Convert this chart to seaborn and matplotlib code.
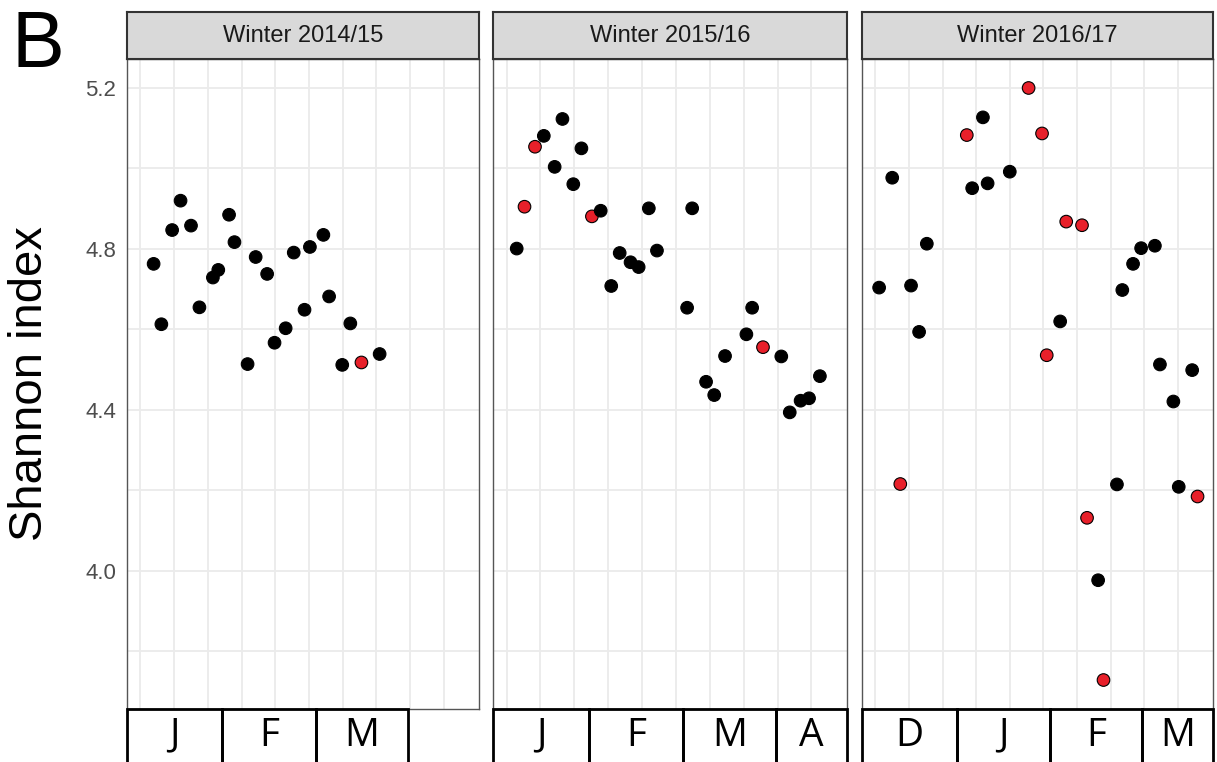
import numpy as np
import pandas as pd
import matplotlib
matplotlib.use("Agg")
import matplotlib.pyplot as plt
import matplotlib.transforms as mtransforms
from matplotlib.patches import Rectangle
from matplotlib.ticker import FixedLocator
import seaborn as sns

# --- data (x = days into the sampling season) ---
winters = ["Winter 2014/15", "Winter 2015/16", "Winter 2016/17"]

day_1415 = [3.9, 6.2, 9.4, 11.9, 15.0, 17.5, 21.5, 23.1, 26.3, 27.9, 31.8, 34.2,
            37.6, 39.8, 43.1, 45.5, 48.7, 50.3, 54.3, 56.0, 59.9, 62.3, 65.6, 71.0]
shannon_1415 = [4.763, 4.613, 4.847, 4.920, 4.858, 4.655, 4.729, 4.748, 4.885, 4.817, 4.514, 4.780,
                4.738, 4.567, 4.603, 4.791, 4.649, 4.805, 4.835, 4.682, 4.512, 4.615, 4.518, 4.539]
red_1415 = [0, 0, 0, 0, 0, 0, 0, 0, 0, 0, 0, 0,
            0, 0, 0, 0, 0, 0, 0, 0, 0, 0, 1, 0]

day_1516 = [3.0, 5.3, 8.4, 11.0, 14.2, 16.5, 19.7, 22.1, 25.2, 27.8, 30.9, 33.4, 36.6, 39.0, 42.0,
            44.4, 53.3, 54.8, 58.9, 61.3, 64.5, 70.8, 72.5, 75.7, 81.1, 83.6, 86.8, 89.3, 92.5]
shannon_1516 = [4.801, 4.905, 5.054, 5.081, 5.004, 5.123, 4.961, 5.050, 4.881, 4.895, 4.708, 4.790, 4.767, 4.755, 4.901,
                4.796, 4.654, 4.901, 4.470, 4.437, 4.534, 4.588, 4.654, 4.556, 4.533, 4.394, 4.423, 4.429, 4.484]
red_1516 = [0, 1, 1, 0, 0, 0, 0, 0, 1, 0, 0, 0, 0, 0, 0,
            0, 0, 0, 0, 0, 0, 0, 0, 1, 0, 0, 0, 0, 0]

day_1617 = [1.1, 5.0, 7.4, 10.6, 13.0, 15.3, 27.2, 28.8, 32.0, 33.4, 40.0, 45.6, 49.6, 51.0, 55.0,
            56.8, 61.5, 63.0, 66.3, 67.9, 71.9, 73.5, 76.7, 79.1, 83.2, 84.7, 88.7, 90.3, 94.3, 95.9]
shannon_1617 = [4.704, 4.977, 4.216, 4.709, 4.594, 4.813, 5.083, 4.951, 5.127, 4.963, 4.992, 5.200, 5.087, 4.536, 4.620,
                4.868, 4.859, 4.132, 3.977, 3.729, 4.215, 4.698, 4.763, 4.802, 4.808, 4.513, 4.421, 4.209, 4.499, 4.185]
red_1617 = [0, 0, 1, 0, 0, 0, 1, 0, 0, 0, 0, 1, 1, 1, 0,
            1, 1, 1, 0, 1, 0, 0, 0, 0, 0, 0, 0, 0, 0, 1]

months_1415 = ["J", "F", "M"]
months_1516 = ["J", "F", "M", "A"]
months_1617 = ["D", "J", "F", "M"]
month_edges = [-4, 24.3, 52, 79.5, 100.5]

y_major = [4.0, 4.4, 4.8, 5.2]
y_minor = [3.8, 4.2, 4.6, 5.0]

panels = [
    (winters[0], day_1415, shannon_1415, red_1415, months_1415),
    (winters[1], day_1516, shannon_1516, red_1516, months_1516),
    (winters[2], day_1617, shannon_1617, red_1617, months_1617),
]

sns.set_theme(style="whitegrid")
plt.rcParams['font.family'] = ['Liberation Sans', 'DejaVu Sans']

fig = plt.figure(figsize=(12.17, 7.62), dpi=100)
fig.patch.set_facecolor("white")

lefts = [127 / 1217, 493 / 1217, 862 / 1217]
widths = [352 / 1217, 354 / 1217, 351 / 1217]
ax_bottom, ax_height = 53 / 762, 650 / 762
strip_bottom, strip_height = 703 / 762, 47 / 762

for i, (title, days, vals, red, months) in enumerate(panels):
    ax = fig.add_axes([lefts[i], ax_bottom, widths[i], ax_height])
    df = pd.DataFrame({"day": days, "shannon": vals, "flag": red})
    sns.scatterplot(data=df, x="day", y="shannon", hue="flag",
                    palette={0: "black", 1: "#E8202A"}, s=82,
                    edgecolor="black", linewidth=0.8, legend=False, ax=ax, zorder=3)
    ax.set_xlim(-4, 100.5)
    ax.set_ylim(3.657, 5.272)
    ax.set_xticks(np.arange(0, 100, 10))
    ax.set_yticks(y_major)
    ax.yaxis.set_minor_locator(FixedLocator(y_minor))
    ax.grid(which="both", color="#EBEBEB", lw=1.3)
    ax.set_axisbelow(True)
    ax.set_xlabel("")
    ax.set_ylabel("")
    ax.tick_params(axis="x", length=0, labelbottom=False)
    ax.tick_params(axis="y", which="minor", length=0)
    if i == 0:
        ax.set_yticklabels([f"{v:.1f}" for v in y_major])
        ax.tick_params(axis="y", which="major", length=5, width=1, color="#555555",
                       labelsize=16, labelcolor="#4D4D4D", pad=3)
    else:
        ax.tick_params(axis="y", which="major", length=0, labelleft=False)
    for sp in ax.spines.values():
        sp.set_color("#555555")
        sp.set_linewidth(1.0)

    # month boxes under the panel
    trans = mtransforms.blended_transform_factory(ax.transData, ax.transAxes)
    for j, m in enumerate(months):
        x0, x1 = month_edges[j], month_edges[j + 1]
        ax.add_patch(Rectangle((x0, -0.2), x1 - x0, 0.2, transform=trans, fill=False,
                               ec="black", lw=2, clip_on=False, zorder=5))
        ax.text((x0 + x1) / 2, -0.041, m, transform=trans, ha="center", va="center",
                fontsize=28, family=["Open Sans", "DejaVu Sans"], color="black")

    # facet strip
    sax = fig.add_axes([lefts[i], strip_bottom, widths[i], strip_height])
    sax.set_facecolor("#D9D9D9")
    sax.set_xticks([])
    sax.set_yticks([])
    sax.grid(False)
    for sp in sax.spines.values():
        sp.set_color("#333333")
        sp.set_linewidth(1.5)
    sax.text(0.5, 0.5, title, ha="center", va="center", fontsize=17, color="#1A1A1A",
             transform=sax.transAxes)

fig.text(30 / 1217, 0.496, "Shannon index", rotation=90, ha="center", va="center",
         fontsize=34, color="black")
fig.text(12 / 1217, 695 / 762, "B", ha="left", va="baseline", fontsize=57, color="black")

fig.savefig("out.png", dpi=100)
